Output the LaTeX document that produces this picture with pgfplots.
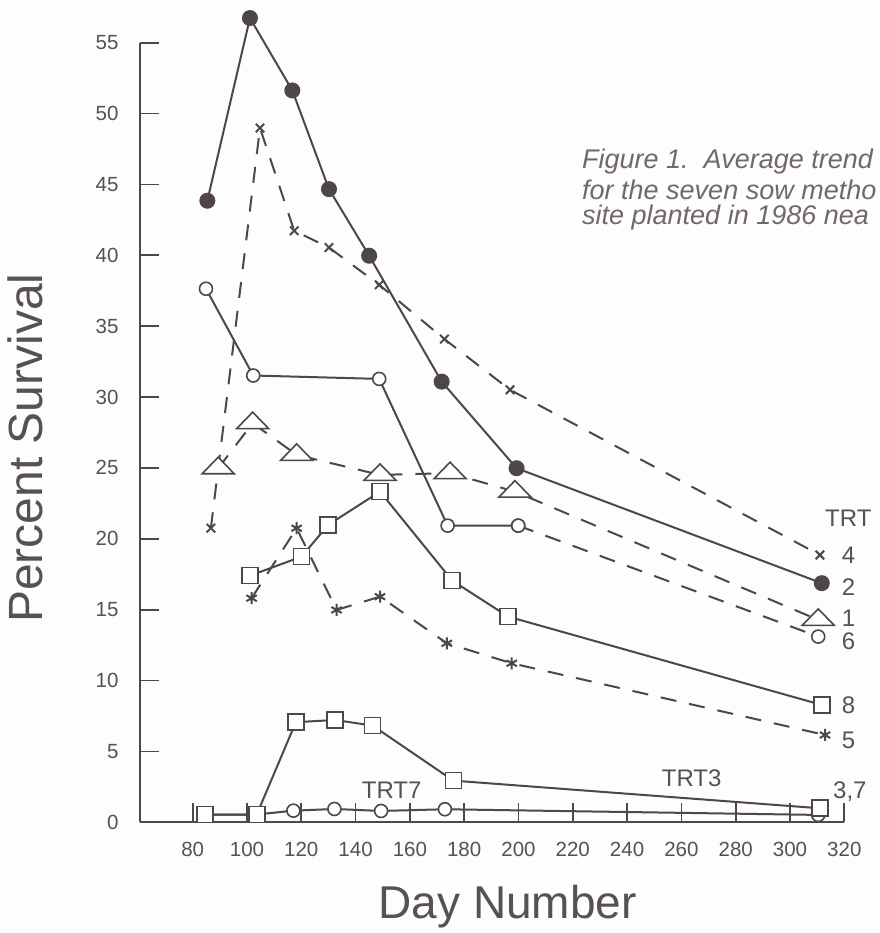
\documentclass[border=0pt]{standalone}
\usepackage{fontspec}
\setmainfont{Liberation Sans}
\usepackage{pgfplots}
\pgfplotsset{compat=1.18}
\definecolor{ink}{HTML}{4F464A}
\definecolor{txt}{HTML}{575054}
\definecolor{cap}{HTML}{72686C}
\definecolor{paper}{HTML}{FDFDFB}

\begin{document}
\begin{tikzpicture}
\useasboundingbox[fill=paper] (-140pt,-110.7pt) rectangle (739pt,822.3pt);
\begin{axis}[
  at={(0,0)}, anchor=south west,
  width=704.3pt, height=779.6pt, scale only axis,
  xmin=60.6, xmax=320, ymin=0, ymax=55,
  axis x line*=bottom, axis y line*=left,
  axis line style={-, line width=2pt, ink},
  xtick={80,100,...,320}, ytick={0,5,...,55},
  tick align=inside, major tick length=19pt,
  tick style={line width=1.8pt, ink},
  ticklabel style={font=\fontsize{20.5}{20.5}\selectfont, text=txt},
  xticklabel style={yshift=-16pt},
  yticklabel style={xshift=-18pt},
  /pgf/number format/assume math mode=true,
  clip=false,
  xlabel={Day Number}, ylabel={Percent Survival},
  every axis x label/.style={at={([yshift=-95.7pt]axis description cs:0.522,0)}, anchor=base, inner sep=0pt, font=\fontsize{46}{46}\selectfont, text=txt},
  every axis y label/.style={at={([xshift=-97pt]axis description cs:0,0.48)}, anchor=base, rotate=90, inner sep=0pt, font=\fontsize{48}{48}\selectfont, text=txt},
  every axis plot/.append style={ink, line width=2pt},
  dashedline/.style={dash pattern=on 16pt off 13pt},
]
% TRT7 (circles hidden under the TRT3 squares at the first two days)
\addplot[mark=*, mark size=6.5pt, mark options={solid, fill=white, line width=1.6pt}, mark indices={3,4,5,6,7}]
  coordinates {(84.5,0.55)(103.6,0.55)(117.1,0.82)(132.2,0.94)(149.4,0.80)(172.9,0.92)(310.4,0.52)};
% TRT3
\addplot[mark=square*, mark size=8pt, mark options={solid, fill=white, line width=1.6pt}]
  coordinates {(84.5,0.55)(103.6,0.55)(118.0,7.06)(132.4,7.22)(146.3,6.82)(176.0,2.94)(311.0,0.99)};
% TRT5
\addplot[dashedline, mark=asterisk, mark size=6pt, mark options={solid, line width=2pt}]
  coordinates {(101.7,15.81)(118.3,20.75)(133.0,14.98)(149.0,15.92)(173.6,12.63)(197.5,11.22)(312.9,6.16)};
% TRT8
\addplot[mark=square*, mark size=8pt, mark options={solid, fill=white, line width=1.6pt}]
  coordinates {(101.1,17.40)(120.1,18.74)(129.9,20.98)(149.0,23.33)(175.6,17.05)(196.2,14.51)(311.7,8.28)};
% TRT4
\addplot[dashedline, mark=x, mark size=6pt, mark options={solid, line width=2pt}]
  coordinates {(86.7,20.75)(104.8,48.98)(117.4,41.73)(130.2,40.55)(148.7,37.92)(172.7,34.09)(196.9,30.51)(311.0,18.86)};
% TRT6
\addplot[mark=*, mark size=6.5pt, mark options={solid, fill=white, line width=1.6pt}]
  coordinates {(84.9,37.64)(102.3,31.52)(148.7,31.28)(173.9,20.93)(199.9,20.93)};
\addplot[dashedline, mark=*, mark size=6.5pt, mark options={solid, fill=white, line width=1.6pt}]
  coordinates {(199.9,20.93)(310.4,13.10)};
% TRT1
\addplot[dashedline, mark=triangle*, mark size=10pt, mark options={solid, fill=white, line width=1.6pt, xscale=1.85, yscale=1.1}]
  coordinates {(89.4,24.98)(102.1,28.16)(118.3,25.92)(149.0,24.51)(174.8,24.63)(198.7,23.33)(310.4,14.28)};
% TRT2
\addplot[mark=*, mark size=7pt, mark options={solid, fill=ink}]
  coordinates {(85.4,43.85)(101.1,56.74)(116.7,51.63)(130.2,44.67)(145.0,39.97)(171.7,31.09)(199.3,24.98)(311.7,16.87)};
\end{axis}
\begin{scope}[every node/.style={anchor=west, inner sep=0pt, text=txt, font=\fontsize{24}{24}\selectfont}]
\node at (685pt,304.3pt) {TRT};
\node at (701.7pt,267.3pt) {4};
\node at (701.7pt,235.6pt) {2};
\node at (701.7pt,204pt) {1};
\node at (701.7pt,180.6pt) {6};
\node at (701.7pt,117.3pt) {8};
\node at (701.7pt,82.3pt) {5};
\node at (693pt,30.6pt) {3,7};
\node at (521.7pt,44pt) {TRT3};
\node at (221.7pt,32.3pt) {TRT7};
\end{scope}
\begin{scope}[every node/.style={anchor=west, inner sep=0pt, text=cap, font=\fontsize{27}{28}\selectfont\itshape}]
\node at (442pt,660.3pt) {Figure 1.\ \ Average trend};
\node at (442pt,632.3pt) {for the seven sow metho};
\node at (442pt,604.3pt) {site planted in 1986 nea};
\end{scope}
\end{tikzpicture}
\end{document}
